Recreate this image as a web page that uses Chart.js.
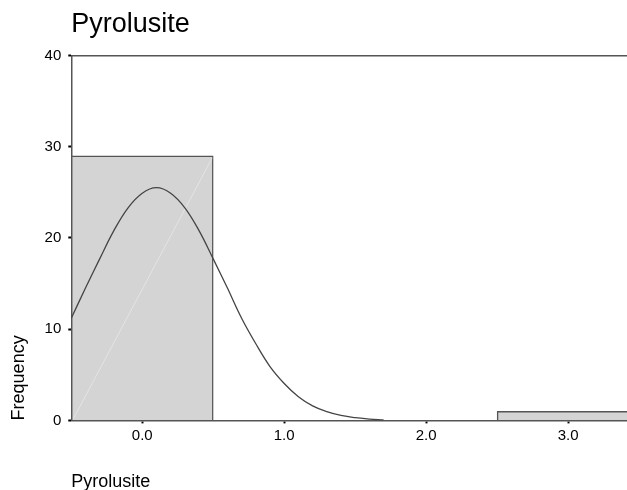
<!DOCTYPE html>
<html>
<head>
<meta charset="utf-8">
<script src="https://cdn.jsdelivr.net/npm/chart.js@4"></script>
<style>
    html, body { margin: 0; padding: 0; background: #fff; }
    #wrap { width: 627px; height: 490px; }
</style>
</head>
<body>
<div id="wrap"><canvas id="histChart"></canvas></div>
<script>
// Histogram bins (centre of each bin) and counts
const binCenters = [0, 1, 2, 3];
const binCounts = [29, 0, 0, 1];

// Normal curve
const curveX = [-0.5, -0.4, -0.3, -0.2, -0.1, 0.0, 0.1, 0.2, 0.3, 0.4, 0.5, 0.6, 0.7, 0.8, 0.9, 1.0, 1.1, 1.2, 1.3, 1.4, 1.5, 1.6, 1.7];
const curveY = [11.2, 14.5, 17.7, 20.8, 23.3, 24.9, 25.5, 24.9, 23.3, 20.8, 17.7, 14.5, 11.2, 8.4, 5.9, 4.05, 2.6, 1.6, 0.97, 0.55, 0.3, 0.15, 0.05];

// Tick labels
const xTicks = [0, 1, 2, 3];
const yTicks = [0, 10, 20, 30, 40];

const xMin = -0.5;
const xMax = 3.415;

Chart.defaults.font.family = "'Liberation Sans', Arial, sans-serif";
Chart.defaults.color = '#000';

// faint light streak across the big bar, like the original render
const barSheen = {
    id: 'barSheen',
    afterDatasetDraw(chart, args) {
        if (args.meta.type !== 'bar') return;
        const ctx = chart.ctx;
        ctx.save();
        ctx.strokeStyle = 'rgba(236,236,236,0.8)';
        ctx.lineWidth = 0.8;
        args.meta.data.forEach(bar => {
            const p = bar.getProps(['x', 'y', 'base', 'width'], true);
            if (p.base - p.y < 50) return;
            ctx.beginPath();
            ctx.moveTo(p.x - p.width / 2 + 2, p.base - 1);
            ctx.lineTo(p.x + p.width / 2 - 1, p.y + 2);
            ctx.stroke();
        });
        ctx.restore();
    }
};

const ctx = document.getElementById('histChart').getContext('2d');
new Chart(ctx, {
    type: 'bar',
    data: {
        datasets: [{
            type: 'line',
            label: 'Normal',
            data: curveX.map((x, i) => ({ x: x, y: curveY[i] })),
            borderColor: '#444',
            borderWidth: 1.3,
            pointRadius: 0,
            tension: 0.4,
            fill: false,
            order: 0
        }, {
            type: 'bar',
            label: 'Pyrolusite',
            data: binCenters.map((x, i) => ({ x: x, y: binCounts[i] })),
            backgroundColor: '#d4d4d4',
            borderColor: '#555',
            borderWidth: 1.5,
            barPercentage: 1,
            categoryPercentage: 1,
            order: 1
        }]
    },
    options: {
        responsive: true,
        maintainAspectRatio: false,
        animation: false,
        layout: { padding: 0 },
        plugins: {
            legend: { display: false },
            tooltip: { enabled: false }
        },
        scales: {
            x: {
                type: 'linear',
                position: 'bottom',
                min: xMin,
                max: xMax,
                offset: false,
                afterBuildTicks: axis => {
                    axis.ticks = xTicks.map(v => ({ value: v }));
                },
                ticks: {
                    padding: 3,
                    font: { size: 15 },
                    callback: v => Number(v).toFixed(1)
                },
                grid: {
                    offset: false,
                    drawOnChartArea: false,
                    color: 'transparent',
                    tickColor: '#000',
                    tickLength: 3,
                    tickWidth: 2
                },
                border: { color: '#555', width: 1.5 },
                title: {
                    display: true,
                    text: 'Pyrolusite',
                    align: 'start',
                    font: { size: 18 },
                    padding: { top: 24, bottom: -3 }
                }
            },
            xTop: {
                type: 'linear',
                position: 'top',
                min: xMin,
                max: xMax,
                ticks: { display: false },
                grid: { display: false, drawTicks: false },
                border: { color: '#555', width: 1.5 },
                title: {
                    display: true,
                    text: 'Pyrolusite',
                    align: 'start',
                    font: { size: 27 },
                    padding: { top: 8, bottom: 15 }
                }
            },
            y: {
                min: 0,
                max: 40,
                afterBuildTicks: axis => {
                    axis.ticks = yTicks.map(v => ({ value: v }));
                },
                ticks: {
                    padding: 7,
                    font: { size: 15 }
                },
                grid: {
                    drawOnChartArea: false,
                    color: 'transparent',
                    tickColor: '#000',
                    tickLength: 3,
                    tickWidth: 2
                },
                border: { color: '#555', width: 1.5 },
                title: {
                    display: true,
                    text: 'Frequency',
                    align: 'start',
                    font: { size: 18 },
                    padding: { top: 8, bottom: 8 }
                }
            }
        }
    },
    plugins: [barSheen]
});
</script>
</body>
</html>
